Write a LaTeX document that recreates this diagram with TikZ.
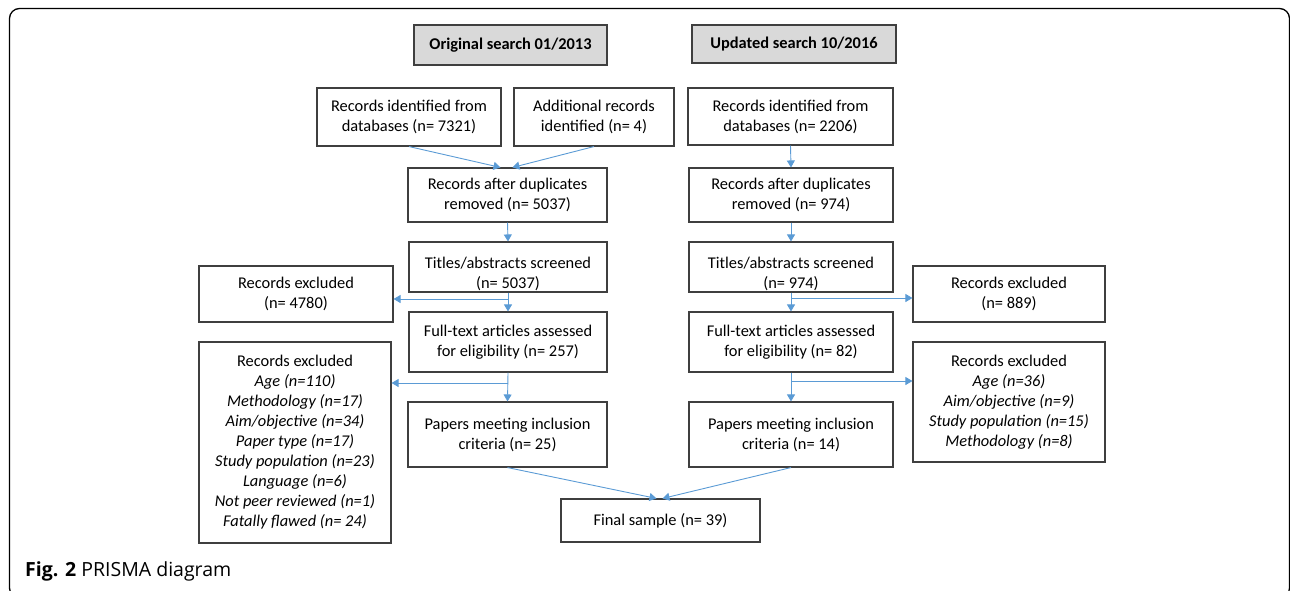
\documentclass[tikz,border=0pt]{standalone}
\usepackage{fontspec}
\setmainfont{Carlito}
\newfontfamily\capfont{Open Sans}
\usetikzlibrary{arrows.meta,calc}
\definecolor{arrc}{HTML}{5B9BD5}
\definecolor{boxc}{HTML}{3F3F3F}
\definecolor{hdrc}{HTML}{D9D9D9}
\tikzset{
  box/.style={draw=boxc, line width=1.1pt, inner sep=0pt, align=center,
    font=\fontsize{16.4}{20}\selectfont},
  hdr/.style={box, fill=hdrc, font=\bfseries\fontsize{16.4}{20}\selectfont},
  boxtext/.style={inner sep=0pt, align=center, font=\fontsize{16.4}{20}\selectfont},
  arr/.style={draw=arrc, line width=0.9pt, -{Triangle[width=8pt,length=7pt]}},
  frame/.style={draw=black, line width=1.3pt, rounded corners=10pt}
}
\begin{document}
\begin{tikzpicture}[x=1pt,y=-1pt]
\useasboundingbox (0,0) rectangle (1290,590);
\clip (0,0) rectangle (1290,590);
\draw[frame] (9.5,8.5) rectangle (1289.5,598);

% headers
\node[hdr, minimum width=193pt, minimum height=40pt] (h1) at (510.5,45) {Original search 01/2013};
\node[hdr, minimum width=204pt, minimum height=38pt] (h2) at (794,44) {Updated search 10/2016};

% row 1
\node[box, minimum width=184pt, minimum height=58pt] (id1) at (409,117) {Records identified from\\databases (n= 7321)};
\node[box, minimum width=160pt, minimum height=58pt] (add) at (594,117) {Additional records\\identified (n= 4)};
\node[box, minimum width=205pt, minimum height=57pt] (id2) at (790.5,116.5) {Records identified from\\databases (n= 2206)};

% row 2
\node[box, minimum width=199pt, minimum height=54pt] (dup1) at (507.5,195) {Records after duplicates\\removed (n= 5037)};
\node[box, minimum width=204pt, minimum height=54pt] (dup2) at (791,195) {Records after duplicates\\removed (n= 974)};

% row 3
\node[box, minimum width=198pt, minimum height=50pt] (scr1) at (508,267) {};
\node[boxtext] (scr1t) at (508,274) {Titles/abstracts screened\\(n= 5037)};
\node[box, minimum width=204pt, minimum height=50pt] (scr2) at (791,267) {};
\node[boxtext] (scr2t) at (791,274) {Titles/abstracts screened\\(n= 974)};

\node[box, minimum width=194pt, minimum height=56pt] (exc1) at (296,294) {Records excluded\\(n= 4780)};
\node[box, minimum width=192pt, minimum height=56pt] (exc2) at (1009,294) {Records excluded\\(n= 889)};

% row 4
\node[box, minimum width=198pt, minimum height=60pt] (ft1) at (508,342) {Full-text articles assessed\\for eligibility (n= 257)};
\node[box, minimum width=204pt, minimum height=60pt] (ft2) at (791,342) {Full-text articles assessed\\for eligibility (n= 82)};

\node[box, minimum width=192pt, minimum height=201pt] (exc3) at (295,442.5) {Records excluded\\\textit{Age (n=110)}\\\textit{Methodology (n=17)}\\\textit{Aim/objective (n=34)}\\\textit{Paper type (n=17)}\\\textit{Study population (n=23)}\\\textit{Language (n=6)}\\\textit{Not peer reviewed (n=1)}\\\textit{Fatally flawed (n= 24)}};
\node[box, minimum width=192pt, minimum height=120pt] (exc4) at (1009,402) {Records excluded\\\textit{Age (n=36)}\\\textit{Aim/objective (n=9)}\\\textit{Study population (n=15)}\\\textit{Methodology (n=8)}};

% row 5
\node[box, minimum width=199pt, minimum height=65pt] (pap1) at (507.5,434.5) {Papers meeting inclusion\\criteria (n= 25)};
\node[box, minimum width=204pt, minimum height=65pt] (pap2) at (791,434.5) {Papers meeting inclusion\\criteria (n= 14)};

\node[box, minimum width=199pt, minimum height=43pt] (fin) at (660.5,520.5) {Final sample (n= 39)};

% caption
\node[anchor=base west, inner sep=0pt, font=\capfont\fontsize{19.5}{24}\selectfont] (cap) at (25,576) {\textbf{Fig. 2} PRISMA diagram};

% branch points
\coordinate (b1) at (508,299);
\coordinate (b2) at (791,298);
\coordinate (b3) at (508,383);
\coordinate (b4) at (791,381);

% connectors
\draw[arr] (id1.south) -- ($(dup1.north)+(-7,0)$);
\draw[arr] (add.south) -- ($(dup1.north)+(5,0)$);
\draw[arr] (id2.south) -- (dup2.north);
\draw[arr] (dup1.south) -- (scr1.north);
\draw[arr] (dup2.south) -- (scr2.north);
\draw[arr] (scr1.south) -- (ft1.north);
\draw[arr] (scr2.south) -- (ft2.north);
\draw[arr] (b1) -- (b1 -| exc1.east);
\draw[arr] (b2) -- (b2 -| exc2.west);
\draw[arr] (ft1.south) -- (pap1.north);
\draw[arr] (ft2.south) -- (pap2.north);
\draw[arr] (b3) -- (b3 -| exc3.east);
\draw[arr] (b4) -- (b4 -| exc4.west);
\draw[arr] (pap1.south) -- ($(fin.north)+(-4,0)$);
\draw[arr] (pap2.south) -- ($(fin.north)+(2,0)$);
\end{tikzpicture}
\end{document}
